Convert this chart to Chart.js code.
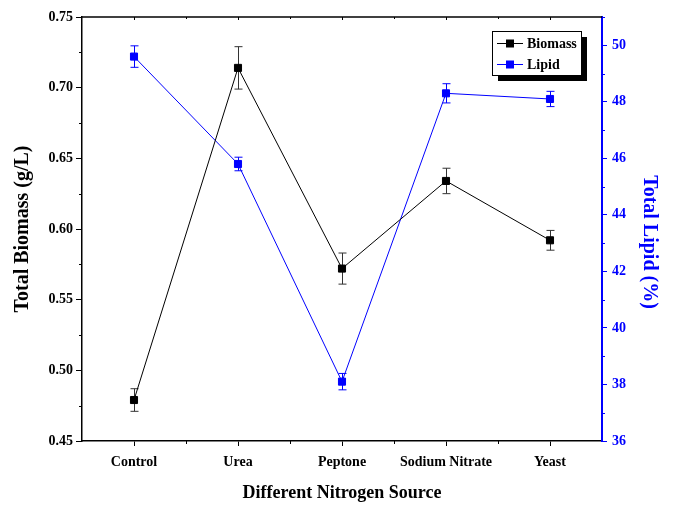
<!DOCTYPE html>
<html>
<head>
<meta charset="utf-8">
<script src="https://cdn.jsdelivr.net/npm/chart.js@4.4.1/dist/chart.umd.min.js"></script>
<style>
  html, body { margin: 0; padding: 0; background: #fff; }
  #wrap { width: 673px; height: 508px; }
</style>
</head>
<body>
<div id="wrap"><canvas id="c" width="673" height="508"></canvas></div>
<script>
// Nitrogen sources tested
const categories = ['Control', 'Urea', 'Peptone', 'Sodium Nitrate', 'Yeast'];

// Total biomass (g/L) with standard deviation
const biomass = [0.479, 0.714, 0.572, 0.634, 0.592];
const biomassErr = [0.008, 0.015, 0.011, 0.009, 0.007];

// Total lipid (%) with standard deviation
const lipid = [49.6, 45.8, 38.1, 48.3, 48.1];
const lipidErr = [0.38, 0.24, 0.29, 0.34, 0.27];

// Axis tick labels
const biomassTicks = [0.45, 0.50, 0.55, 0.60, 0.65, 0.70, 0.75];
const biomassMinor = [0.475, 0.525, 0.575, 0.625, 0.675, 0.725];
const lipidTicks = [36, 38, 40, 42, 44, 46, 48, 50];
const lipidMinor = [37, 39, 41, 43, 45, 47, 49, 51];

const lipidTitle = 'Total Lipid (%)';

const BLUE = '#0000ff';
const FONT = 'Liberation Serif';

Chart.defaults.font.family = FONT;
Chart.defaults.font.weight = 'bold';
Chart.defaults.color = '#000';

// Vertical error bars with caps, drawn under each dataset's line and markers
const errorBars = {
  id: 'errorBars',
  beforeDatasetDraw(chart, args) {
    const ds = chart.data.datasets[args.index];
    if (!ds.errors) return;
    const ctx = chart.ctx;
    const xs = chart.scales.x;
    const ys = chart.scales[ds.yAxisID];
    ctx.save();
    ctx.strokeStyle = ds.errorColor;
    ctx.lineWidth = 1;
    ds.data.forEach((v, i) => {
      const x = Math.round(xs.getPixelForValue(i)) + 0.5;
      const yTop = ys.getPixelForValue(v + ds.errors[i]);
      const yBot = ys.getPixelForValue(v - ds.errors[i]);
      ctx.beginPath();
      ctx.moveTo(x, yTop); ctx.lineTo(x, yBot);
      ctx.moveTo(x - 4, yTop); ctx.lineTo(x + 4, yTop);
      ctx.moveTo(x - 4, yBot); ctx.lineTo(x + 4, yBot);
      ctx.stroke();
    });
    ctx.restore();
  }
};

// Minor ticks, top frame line and its inward ticks, right axis title
const frame = {
  id: 'frame',
  afterDraw(chart) {
    const ctx = chart.ctx;
    const {left, right, top, bottom} = chart.chartArea;
    const xs = chart.scales.x, ys = chart.scales.y, y1 = chart.scales.y1;
    ctx.save();
    // top frame
    ctx.strokeStyle = '#000';
    ctx.lineWidth = 1.5;
    ctx.beginPath();
    ctx.moveTo(left, top); ctx.lineTo(right, top);
    ctx.stroke();
    ctx.lineWidth = 1;
    // x minor ticks below axis and all ticks under top frame
    const xMinor = [];
    for (let i = 0; i < categories.length - 1; i++) xMinor.push(i + 0.5);
    ctx.beginPath();
    xMinor.forEach(v => {
      const x = Math.round(xs.getPixelForValue(v)) + 0.5;
      ctx.moveTo(x, bottom); ctx.lineTo(x, bottom + 3);
    });
    categories.forEach((c, i) => {
      const x = Math.round(xs.getPixelForValue(i)) + 0.5;
      ctx.moveTo(x, top); ctx.lineTo(x, top + 3);
    });
    xMinor.forEach(v => {
      const x = Math.round(xs.getPixelForValue(v)) + 0.5;
      ctx.moveTo(x, top); ctx.lineTo(x, top + 2);
    });
    // left minor ticks
    biomassMinor.forEach(v => {
      const y = Math.round(ys.getPixelForValue(v)) + 0.5;
      ctx.moveTo(left, y); ctx.lineTo(left - 3, y);
    });
    ctx.stroke();
    // right minor ticks
    ctx.strokeStyle = BLUE;
    ctx.beginPath();
    lipidMinor.forEach(v => {
      const y = Math.round(y1.getPixelForValue(v)) + 0.5;
      ctx.moveTo(right, y); ctx.lineTo(right + 3, y);
    });
    ctx.stroke();
    // right axis title, reading top to bottom
    ctx.translate(649, 242);
    ctx.rotate(Math.PI / 2);
    ctx.fillStyle = BLUE;
    ctx.font = 'bold 20px ' + FONT;
    ctx.textAlign = 'center';
    ctx.textBaseline = 'middle';
    ctx.fillText(lipidTitle, 0, 0);
    ctx.restore();
  }
};

// Framed legend with a drop shadow inside the plot area
const boxLegend = {
  id: 'boxLegend',
  afterDraw(chart) {
    const ctx = chart.ctx;
    const bx = 492, by = 31, bw = 89, bh = 44;
    ctx.save();
    ctx.fillStyle = '#000';
    ctx.fillRect(bx + 6, by + 6, bw, bh);
    ctx.fillStyle = '#fff';
    ctx.fillRect(bx, by, bw, bh);
    ctx.strokeStyle = '#000';
    ctx.lineWidth = 1;
    ctx.strokeRect(bx + 0.5, by + 0.5, bw, bh);
    ctx.font = 'bold 14px ' + FONT;
    ctx.textBaseline = 'middle';
    chart.data.datasets.forEach((ds, i) => {
      const y = by + 12.5 + i * 21;
      ctx.strokeStyle = ds.borderColor;
      ctx.beginPath();
      ctx.moveTo(bx + 5, y); ctx.lineTo(bx + 31, y);
      ctx.stroke();
      ctx.fillStyle = ds.pointBackgroundColor;
      ctx.fillRect(bx + 14, y - 4, 8, 8);
      ctx.fillStyle = '#000';
      ctx.fillText(ds.label, bx + 35, y + 1);
    });
    ctx.restore();
  }
};

new Chart(document.getElementById('c'), {
  type: 'line',
  data: {
    labels: categories,
    datasets: [
      {
        label: 'Biomass',
        data: biomass,
        errors: biomassErr,
        errorColor: '#333',
        yAxisID: 'y',
        borderColor: '#000',
        borderWidth: 1,
        pointStyle: 'rect',
        pointRadius: 5,
        pointBorderWidth: 1,
        pointBackgroundColor: '#000',
        pointBorderColor: '#000',
        tension: 0
      },
      {
        label: 'Lipid',
        data: lipid,
        errors: lipidErr,
        errorColor: BLUE,
        yAxisID: 'y1',
        borderColor: BLUE,
        borderWidth: 1,
        pointStyle: 'rect',
        pointRadius: 5,
        pointBorderWidth: 1,
        pointBackgroundColor: BLUE,
        pointBorderColor: BLUE,
        tension: 0
      }
    ]
  },
  options: {
    responsive: false,
    animation: false,
    devicePixelRatio: 1,
    layout: { padding: { top: 17, left: 0, right: 0, bottom: 0 } },
    plugins: {
      legend: { display: false },
      tooltip: { enabled: false }
    },
    scales: {
      x: {
        type: 'category',
        offset: true,
        afterFit: s => { s.height = 67; },
        grid: { display: true, drawOnChartArea: false, offset: false, tickLength: 5, tickColor: '#000' },
        border: { display: true, color: '#000', width: 1.5 },
        ticks: { autoSkip: false, maxRotation: 0, padding: 8, color: '#000', font: { size: 14, weight: 'bold' } },
        title: { display: true, text: 'Different Nitrogen Source', color: '#000',
                 font: { size: 18, weight: 'bold' }, padding: { bottom: 4 } }
      },
      y: {
        position: 'left',
        min: 0.45,
        max: 0.75,
        afterFit: s => { s.width = 82; },
        afterBuildTicks: s => { s.ticks = biomassTicks.map(v => ({ value: v })); },
        grid: { display: true, drawOnChartArea: false, tickLength: 6, tickColor: '#000' },
        border: { display: true, color: '#000', width: 1.5 },
        ticks: { padding: 3, color: '#000', font: { size: 14, weight: 'bold' },
                 callback: v => Number(v).toFixed(2) },
        title: { display: true, text: 'Total Biomass (g/L)', color: '#000',
                 font: { size: 20, weight: 'bold' }, padding: { top: 11 } }
      },
      y1: {
        position: 'right',
        min: 36,
        max: 51,
        afterFit: s => { s.width = 71; },
        afterBuildTicks: s => { s.ticks = lipidTicks.map(v => ({ value: v })); },
        grid: { display: true, drawOnChartArea: false, tickLength: 5, tickColor: BLUE },
        border: { display: true, color: BLUE, width: 2 },
        ticks: { padding: 5, color: BLUE, font: { size: 14, weight: 'bold' },
                 callback: v => String(v) },
        title: { display: false }
      }
    }
  },
  plugins: [errorBars, frame, boxLegend]
});
</script>
</body>
</html>
